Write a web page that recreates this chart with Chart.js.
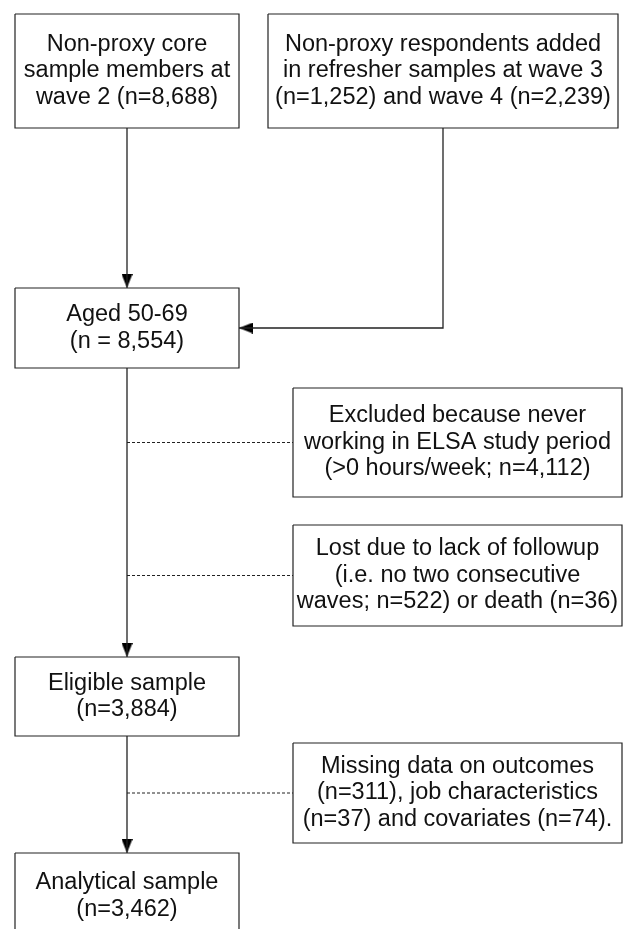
<!DOCTYPE html>
<html>
<head>
<meta charset="utf-8">
<script src="https://cdn.jsdelivr.net/npm/chart.js@4/dist/chart.umd.min.js"></script>
<style>
html, body { margin: 0; padding: 0; background: #fff; }
</style>
</head>
<body>
<canvas id="flow" width="631" height="929"></canvas>
<script>
// Box texts (main column, top to bottom)
const coreText = ["Non-proxy core", "sample members at", "wave 2 (n=8,688)"]
const refresherText = ["Non-proxy respondents added", "in refresher samples at wave 3", "(n=1,252) and wave 4 (n=2,239)"]
const agedText = ["Aged 50-69", "(n = 8,554)"]
const eligibleText = ["Eligible sample", "(n=3,884)"]
const analyticalText = ["Analytical sample", "(n=3,462)"]

// Exclusion boxes (right column)
const excludedText = ["Excluded because never", "working in ELSA study period", "(>0 hours/week; n=4,112)"]
const lostText = ["Lost due to lack of followup", "(i.e. no two consecutive", "waves; n=522) or death (n=36)"]
const missingText = ["Missing data on outcomes", "(n=311), job characteristics", "(n=37) and covariates (n=74)."]

// Layout in axis units (x: 0-631, y: 0-929 top down)
const W = 631, H = 929
const boxes = [
    { text: coreText, x0: 15, y0: 14, x1: 239, y1: 128 },
    { text: refresherText, x0: 268, y0: 14, x1: 618, y1: 128 },
    { text: agedText, x0: 15, y0: 288, x1: 239, y1: 368 },
    { text: excludedText, x0: 293, y0: 388, x1: 622, y1: 497 },
    { text: lostText, x0: 293, y0: 525, x1: 622, y1: 626 },
    { text: eligibleText, x0: 15, y0: 657, x1: 239, y1: 736 },
    { text: missingText, x0: 293, y0: 743, x1: 622, y1: 843 },
    { text: analyticalText, x0: 15, y0: 853, x1: 239, y1: 945, textY: 896 }
]
const [core, refresher, aged, excluded, lost, eligible, missing, analytical] = boxes
const mainX = (core.x0 + core.x1) / 2
const sideX = (refresher.x0 + refresher.x1) / 2
const joinY = (aged.y0 + aged.y1) / 2

const lineColor = "#222"
const fontSpec = "23.5px 'Liberation Sans', Arial, sans-serif"
const lineHeight = 26.5

// Arrowhead drawn once, pointing down, used as a point style
function makeArrowHead() {
    const c = document.createElement("canvas")
    c.width = 11
    c.height = 14
    const g = c.getContext("2d")
    g.fillStyle = "#000"
    g.beginPath()
    g.moveTo(0, 0)
    g.lineTo(11, 0)
    g.lineTo(5.5, 14)
    g.closePath()
    g.fill()
    return c
}
const arrowHead = makeArrowHead()

function boxDataset(b) {
    return {
        data: [
            { x: b.x0, y: b.y0 }, { x: b.x1, y: b.y0 },
            { x: b.x1, y: b.y1 }, { x: b.x0, y: b.y1 }, { x: b.x0, y: b.y0 }
        ],
        showLine: true,
        borderColor: lineColor,
        borderWidth: 1.2,
        pointRadius: 0,
        tension: 0
    }
}

function lineDataset(points, dash) {
    return {
        data: points.map(p => ({ x: p[0], y: p[1] })),
        showLine: true,
        borderColor: lineColor,
        borderWidth: dash ? 1 : 1.3,
        borderDash: dash ? [3, 2] : [],
        pointRadius: 0,
        tension: 0
    }
}

// Dashed exclusion links meet each side box at its middle
const dashLinks = [excluded, lost, missing].map(b =>
    lineDataset([[mainX, (b.y0 + b.y1) / 2], [b.x0, (b.y0 + b.y1) / 2]], true))

const connectors = [
    lineDataset([[mainX, core.y1], [mainX, aged.y0]]),
    lineDataset([[sideX, refresher.y1], [sideX, joinY], [aged.x1, joinY]]),
    lineDataset([[mainX, aged.y1], [mainX, eligible.y0]]),
    lineDataset([[mainX, eligible.y1], [mainX, analytical.y0]]),
    ...dashLinks
]

// Arrowheads: centre sits 7 units back from the tip
const arrows = {
    data: [
        { x: mainX, y: aged.y0 - 7 },
        { x: aged.x1 + 7, y: joinY },
        { x: mainX, y: eligible.y0 - 7 },
        { x: mainX, y: analytical.y0 - 7 }
    ],
    pointStyle: arrowHead,
    rotation: [0, 90, 0, 0],
    pointRadius: 7,
    showLine: false
}

const boxText = {
    id: "boxText",
    afterDatasetsDraw(chart) {
        const ctx = chart.ctx
        const xs = chart.scales.x, ys = chart.scales.y
        ctx.save()
        ctx.font = fontSpec
        ctx.fillStyle = "#111"
        ctx.textAlign = "center"
        ctx.textBaseline = "middle"
        for (const b of boxes) {
            const cx = xs.getPixelForValue((b.x0 + b.x1) / 2)
            const cy = ys.getPixelForValue(b.textY || (b.y0 + b.y1) / 2)
            const n = b.text.length
            b.text.forEach((t, i) => {
                ctx.fillText(t, cx, cy + (i - (n - 1) / 2) * lineHeight)
            })
        }
        ctx.restore()
    }
}

new Chart(document.getElementById("flow"), {
    type: "scatter",
    data: { datasets: [...boxes.map(boxDataset), ...connectors, arrows] },
    options: {
        responsive: false,
        animation: false,
        layout: { padding: 0, autoPadding: false },
        scales: {
            x: { type: "linear", min: 0, max: W, display: false },
            y: { type: "linear", min: 0, max: H, reverse: true, display: false }
        },
        plugins: { legend: { display: false }, tooltip: { enabled: false } }
    },
    plugins: [boxText]
})
</script>
</body>
</html>
